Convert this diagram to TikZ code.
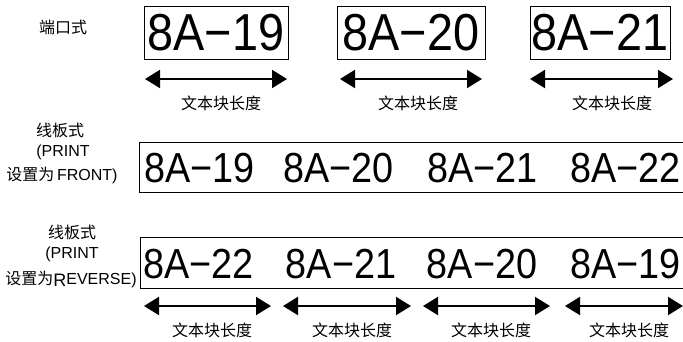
\documentclass[tikz,border=0pt]{standalone}
\usepackage{fontspec}
\setmainfont{Liberation Sans}
\newfontfamily\cjk{Noto Sans CJK SC}
\newfontfamily\tagfont[FakeStretch=0.9]{Liberation Sans}
\usetikzlibrary{arrows.meta}
\tikzset{
  big/.style={font=\tagfont\fontsize{52}{52}\selectfont,inner sep=0pt},
  mid/.style={font=\tagfont\fontsize{42}{42}\selectfont,inner sep=0pt},
  side/.style={font=\fontsize{16}{16}\selectfont,inner sep=0pt},
  lbl/.style={font=\cjk\fontsize{16}{16}\selectfont,inner sep=0pt},
  len/.style={{Triangle[length=15pt,width=18pt]}-{Triangle[length=15pt,width=18pt]},line width=2pt},
}
\begin{document}
\begin{tikzpicture}[x=1pt,y=-1pt]
\clip (0,0) rectangle (683,341);
\fill[white] (0,0) rectangle (683,341);
% port style
\node[lbl] (port) at (63,27) {端口式};
\node[big,draw,line width=1pt,minimum width=144pt,minimum height=53pt] (t19) at (216,32.5) {8A−19};
\node[big,draw,line width=1pt,minimum width=148pt,minimum height=53pt] (t20) at (411,32.5) {8A−20};
\node[big,draw,line width=1pt,minimum width=140pt,minimum height=53pt] (t21) at (600,32.5) {8A−21};
\coordinate (p1l) at (145,79); \coordinate (p1r) at (287,79);
\coordinate (p2l) at (340,79); \coordinate (p2r) at (482,79);
\coordinate (p3l) at (530,79); \coordinate (p3r) at (673,79);
\draw[len] (p1l)--(p1r);
\draw[len] (p2l)--(p2r);
\draw[len] (p3l)--(p3r);
\node[lbl] (pl1) at (221,103) {文本块长度};
\node[lbl] (pl2) at (418,103) {文本块长度};
\node[lbl] (pl3) at (612,103) {文本块长度};
% panel, front
\node[lbl] (f1) at (60,130) {线板式};
\node[side] (f2) at (63,152) {(PRINT};
\node[side] (f3) at (62,175) {{\cjk 设置为}\,FRONT)};
\draw[line width=1pt] (139,142) rectangle (700,192);
\node[mid] (f19) at (199.5,168) {8A−19};
\node[mid] (f20) at (338.5,168) {8A−20};
\node[mid] (f21) at (482.5,168) {8A−21};
\node[mid] (f22) at (625.5,168) {8A−22};
% panel, reverse
\node[lbl] (r1) at (72,232) {线板式};
\node[side] (r2) at (72,254) {(PRINT};
\node[side] (r3) at (71,279) {{\cjk 设置为}\raisebox{-2pt}{\fontsize{18}{18}\selectfont R}EVERSE)};
\draw[line width=1pt] (140,237) rectangle (700,288);
\node[mid] (r22) at (198.5,264) {8A−22};
\node[mid] (r21) at (341,264) {8A−21};
\node[mid] (r20) at (482,264) {8A−20};
\node[mid] (r19) at (625.5,264) {8A−19};
\coordinate (q1l) at (144,306); \coordinate (q1r) at (271,306);
\coordinate (q2l) at (283,306); \coordinate (q2r) at (411,306);
\coordinate (q3l) at (423,306); \coordinate (q3r) at (550,306);
\coordinate (q4l) at (565,306); \coordinate (q4r) at (683,306);
\draw[len] (q1l)--(q1r);
\draw[len] (q2l)--(q2r);
\draw[len] (q3l)--(q3r);
\draw[len] (q4l)--(q4r);
\node[lbl] (ql1) at (212,330) {文本块长度};
\node[lbl] (ql2) at (352,330) {文本块长度};
\node[lbl] (ql3) at (491,330) {文本块长度};
\node[lbl] (ql4) at (629,330) {文本块长度};
\end{tikzpicture}
\end{document}
